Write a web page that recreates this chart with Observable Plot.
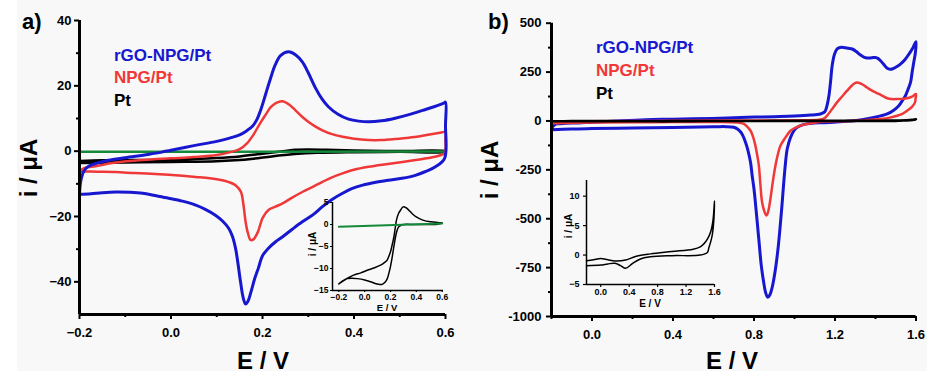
<!DOCTYPE html>
<html><head><meta charset="utf-8">
<script src="https://cdn.jsdelivr.net/npm/d3@7"></script>
<script src="https://cdn.jsdelivr.net/npm/@observablehq/plot@0.6"></script>
<style>
html,body{margin:0;padding:0;background:#fff;}
#wrap{position:relative;width:947px;height:380px;overflow:hidden;font-family:"Liberation Sans",Arial,sans-serif;}
#bg{position:absolute;left:17px;top:0;width:910px;height:371px;background:#f8f8f8;}
.p{position:absolute;}
.p svg{overflow:visible;display:block;}
</style></head>
<body><div id="wrap"><div id="bg"></div></div>
<script>
// ---------------- data ----------------
const seriesNames = ["rGO-NPG/Pt", "NPG/Pt", "Pt"];

// panel a) main CVs  [E (V), i (µA)]
const aRGO = [[-0.2,-13],[-0.197,-9],[-0.19,-6],[-0.18,-4.6],[-0.16,-3.6],[-0.137,-2.8],[-0.1,-2.0],[-0.05,-1.0],[-0.02,-0.3],[0.0,0.3],[0.05,1.7],[0.1,3.0],[0.128,4.0],[0.15,5.0],[0.165,6.2],[0.178,7.6],[0.187,9.5],[0.197,13],[0.207,17.5],[0.218,22.5],[0.228,26.5],[0.24,29.3],[0.257,30.4],[0.272,29.5],[0.287,27.3],[0.3,24],[0.316,19.3],[0.33,16],[0.344,13.6],[0.365,11.3],[0.388,9.8],[0.41,9.2],[0.432,9.0],[0.46,9.3],[0.49,10.1],[0.52,11.2],[0.55,12.5],[0.575,13.6],[0.596,14.7],[0.6,15],[0.6,8],[0.598,-2.2],[0.578,-4.8],[0.555,-6.3],[0.534,-7.4],[0.505,-8.3],[0.475,-8.9],[0.445,-9.6],[0.419,-10.4],[0.395,-11.5],[0.375,-12.9],[0.352,-14.8],[0.331,-17],[0.31,-19.5],[0.287,-21.6],[0.265,-23.9],[0.244,-26.2],[0.228,-27.8],[0.213,-29.7],[0.2,-32],[0.191,-35.8],[0.183,-39],[0.175,-43],[0.168,-46],[0.163,-46.8],[0.158,-45],[0.152,-40],[0.146,-34],[0.141,-29.7],[0.134,-26],[0.126,-23.6],[0.112,-21.3],[0.097,-19.6],[0.075,-17.8],[0.054,-16.5],[0.025,-15.3],[-0.005,-14.4],[-0.035,-13.6],[-0.062,-12.9],[-0.09,-12.6],[-0.121,-12.5],[-0.15,-12.7],[-0.175,-13],[-0.2,-13.2]];
const aNPG = [[-0.2,-6.2],[-0.19,-5.2],[-0.17,-4.7],[-0.121,-3.5],[-0.06,-2.7],[0.0,-2.2],[0.05,-1.8],[0.1,-1.2],[0.13,-0.3],[0.15,0.6],[0.166,2.4],[0.18,5],[0.195,8.6],[0.207,11.2],[0.218,13.5],[0.23,14.8],[0.243,15.3],[0.258,14.3],[0.272,12.5],[0.286,10.6],[0.3,9],[0.315,7.6],[0.331,6.4],[0.352,5.2],[0.375,4.4],[0.4,3.8],[0.432,3.4],[0.46,3.4],[0.49,3.7],[0.52,4.1],[0.55,4.7],[0.575,5.3],[0.597,5.9],[0.6,6.0],[0.6,3.5],[0.598,-0.6],[0.585,-1.4],[0.563,-2.1],[0.535,-2.7],[0.506,-3.3],[0.47,-4.0],[0.432,-4.8],[0.4,-5.7],[0.375,-6.8],[0.352,-8.0],[0.331,-9.4],[0.31,-10.9],[0.287,-12.5],[0.265,-14.2],[0.244,-16],[0.228,-17],[0.213,-18],[0.2,-20.5],[0.19,-24.7],[0.18,-27],[0.174,-27.2],[0.168,-25],[0.163,-21.6],[0.158,-16],[0.153,-12.5],[0.141,-10.4],[0.125,-9.4],[0.112,-8.9],[0.085,-8.3],[0.054,-7.9],[0.01,-7.4],[-0.034,-7.0],[-0.08,-6.7],[-0.121,-6.4],[-0.16,-6.3],[-0.2,-6.2]];
const aPt = [[-0.2,-3.0],[-0.15,-2.8],[-0.1,-2.75],[-0.05,-2.7],[0.0,-2.6],[0.05,-2.4],[0.1,-2.1],[0.15,-1.6],[0.2,-0.8],[0.24,-0.1],[0.27,0.4],[0.3,0.5],[0.34,0.4],[0.4,0.2],[0.5,0.05],[0.6,0.0],[0.6,-0.2],[0.5,-0.2],[0.4,-0.3],[0.32,-0.5],[0.27,-0.9],[0.22,-1.6],[0.18,-2.3],[0.14,-2.8],[0.1,-3.1],[0.0,-3.3],[-0.1,-3.45],[-0.2,-3.6]];
const aBlank = [[-0.2,-0.2],[0.6,-0.1]];
// panel a) inset
const aInsetPt = [[-0.2,-13.5],[-0.15,-12.5],[-0.086,-11.5],[-0.03,-11.0],[0.02,-10.4],[0.07,-9.9],[0.123,-9.25],[0.155,-8.6],[0.174,-8.1],[0.19,-7.0],[0.2,-6.2],[0.213,-4.6],[0.226,-2.8],[0.236,-0.9],[0.246,1.0],[0.262,2.5],[0.277,3.25],[0.298,4.0],[0.32,3.8],[0.342,3.25],[0.37,2.4],[0.406,1.6],[0.45,1.0],[0.51,0.6],[0.587,0.4],[0.6,0.35],[0.56,0.07],[0.45,0.0],[0.38,0.0],[0.303,0.0],[0.28,-0.2],[0.264,-0.5],[0.25,-1.4],[0.239,-2.8],[0.226,-5.0],[0.213,-7.4],[0.2,-9.5],[0.187,-11.1],[0.175,-12.3],[0.161,-13.0],[0.136,-13.6],[0.11,-13.6],[0.08,-13.4],[0.045,-13.0],[0.0,-12.6],[-0.058,-12.3],[-0.1,-12.2],[-0.135,-12.3],[-0.17,-12.8],[-0.2,-13.5]];
const aInsetBlank = [[-0.2,-0.5],[0.6,0.2]];

// panel b) main CVs
const bRGO = [[-0.2,-45],[-0.195,-30],[-0.185,-20],[-0.17,-15],[-0.13,-12],[-0.067,-10],[0.0,-6],[0.1,-1],[0.264,6.6],[0.4,9],[0.594,13],[0.733,18],[0.9,22],[1.0,25],[1.08,30],[1.128,36],[1.145,43],[1.153,53],[1.162,85],[1.17,129],[1.178,200],[1.186,283],[1.197,340],[1.21,368],[1.225,376],[1.244,376],[1.265,372],[1.285,368],[1.305,355],[1.326,337],[1.345,325],[1.359,322],[1.38,323],[1.4,325],[1.412,320],[1.425,308],[1.44,290],[1.458,269],[1.472,264],[1.482,266],[1.5,275],[1.523,291],[1.545,313],[1.565,342],[1.585,375],[1.6,405],[1.597,350],[1.589,300],[1.581,250],[1.573,197],[1.56,160],[1.548,129],[1.53,100],[1.515,78],[1.49,55],[1.458,36],[1.425,26],[1.392,18],[1.34,8],[1.293,1.5],[1.24,-3],[1.194,-7],[1.145,-9],[1.095,-10],[1.06,-15],[1.03,-24],[1.01,-35],[0.997,-50],[0.98,-85],[0.964,-143],[0.955,-220],[0.947,-314],[0.939,-420],[0.931,-518],[0.92,-640],[0.906,-757],[0.89,-850],[0.878,-890],[0.868,-902],[0.858,-880],[0.847,-820],[0.836,-740],[0.826,-630],[0.816,-518],[0.808,-430],[0.8,-348],[0.791,-280],[0.783,-212],[0.77,-150],[0.758,-109],[0.745,-75],[0.733,-55],[0.72,-42],[0.7,-32],[0.66,-29],[0.6,-30],[0.4,-33],[0.2,-36],[0.0,-39],[-0.1,-41],[-0.2,-45]];
const bNPG = [[-0.2,-12],[-0.19,-7],[-0.15,-4],[0.0,-2],[0.3,0],[0.6,2],[0.9,3],[1.05,4],[1.12,6],[1.145,12],[1.161,27],[1.185,60],[1.21,95],[1.235,125],[1.26,155],[1.285,183],[1.306,197],[1.33,190],[1.35,177],[1.37,163],[1.392,150],[1.416,138],[1.437,127],[1.458,116],[1.48,112],[1.507,112],[1.535,113],[1.557,116],[1.58,124],[1.6,138],[1.598,115],[1.595,95],[1.58,72],[1.557,53],[1.535,38],[1.507,27],[1.47,17],[1.425,10],[1.35,4],[1.277,0],[1.2,-2],[1.145,-3],[1.095,-10],[1.06,-16],[1.03,-24],[1.0,-37],[0.98,-50],[0.955,-85],[0.931,-126],[0.918,-170],[0.906,-228],[0.893,-310],[0.881,-399],[0.872,-455],[0.862,-484],[0.852,-465],[0.84,-416],[0.832,-330],[0.824,-228],[0.815,-170],[0.807,-126],[0.795,-80],[0.783,-50],[0.765,-28],[0.75,-15],[0.72,-8],[0.6,-5],[0.3,-6],[0.0,-8],[-0.15,-10],[-0.2,-12]];
// Pt CV, shown in panel b) and its inset
const bPt = [[-0.2,-0.97],[-0.1,-0.8],[0.0,-0.6],[0.1,-0.8],[0.2,-1.0],[0.35,-0.85],[0.5,-0.2],[0.7,0.2],[1.0,0.6],[1.3,1.0],[1.4,1.4],[1.45,1.9],[1.5,2.7],[1.55,4.1],[1.58,6],[1.6,9.2],[1.59,5.8],[1.57,3.5],[1.55,2.4],[1.52,1.2],[1.5,0.45],[1.4,0],[1.0,-0.1],[0.7,-0.3],[0.55,-0.7],[0.45,-1.4],[0.35,-2.25],[0.28,-1.8],[0.2,-1.4],[0.1,-1.5],[0.0,-1.7],[-0.2,-1.8]];

// ticks
const aXTicks = [-0.2, 0, 0.2, 0.4, 0.6], aXMinor = [-0.1, 0.1, 0.3, 0.5];
const aYTicks = [-40, -20, 0, 20, 40], aYMinor = [-30, -10, 10, 30];
const aInXTicks = [-0.2, 0, 0.2, 0.4, 0.6], aInYTicks = [-15, -10, -5, 0, 5];
const bXTicks = [0, 0.4, 0.8, 1.2, 1.6], bXMinor = [-0.2, 0.2, 0.6, 1.0, 1.4];
const bYTicks = [-1000, -750, -500, -250, 0, 250, 500], bYMinor = [-875, -625, -375, -125, 125, 375];
const bInXTicks = [0, 0.4, 0.8, 1.2, 1.6], bInYTicks = [-5, 0, 5, 10];

// domains
const aX = [-0.2, 0.6], aY = [-50, 40];
const aInX = [-0.249, 0.61], aInY = [-15, 5];
const bX = [-0.2, 1.6], bY = [-1000, 500];
const bInX = [-0.2, 1.6], bInY = [-5, 12.66];

// ---------------- styles ----------------
const BLUE = "#1717d0", RED = "#f03838", BLACK = "#000", GREEN = "#15893a";
const colors = [BLUE, RED, BLACK];
const FONT = "'Liberation Sans', Arial, sans-serif";
const minus = d => (d < 0 ? "\u2212" : "") + Math.abs(d);
const minus1 = d => (d < 0 ? "\u2212" : "") + Math.abs(d).toFixed(1);
const fix1 = d => d.toFixed(1);
const blank = () => "";
const xy = {x: d => d[0], y: d => d[1], curve: "catmull-rom"};
const st = size => ({background: "transparent", fontFamily: FONT, fontSize: size + "px", fontWeight: "bold", color: "#000", overflow: "visible"});

const wrap = document.getElementById("wrap");
function mount(svg, left, top) {
  const d = document.createElement("div");
  d.className = "p"; d.style.left = left + "px"; d.style.top = top + "px";
  d.appendChild(svg); wrap.appendChild(d);
}

// panel a main
mount(Plot.plot({
  width: 470, height: 380, marginLeft: 79, marginRight: 25, marginTop: 20, marginBottom: 66,
  style: st(13), x: {domain: aX}, y: {domain: aY},
  marks: [
    Plot.line(aPt, {...xy, stroke: BLACK, strokeWidth: 2.5}),
    Plot.line(aBlank, {...xy, stroke: GREEN, strokeWidth: 2.5}),
    Plot.line(aNPG, {...xy, stroke: RED, strokeWidth: 2.5}),
    Plot.line(aRGO, {...xy, stroke: BLUE, strokeWidth: 3}),
    Plot.axisX(aXTicks, {tickSize: 5, tickPadding: 8, strokeWidth: 2, tickFormat: minus1, label: null}),
    Plot.axisX(aXMinor, {tickSize: 3, strokeWidth: 2, tickFormat: blank, label: null}),
    Plot.axisY(aYTicks, {tickSize: 5, tickPadding: 3, strokeWidth: 2, tickFormat: minus, label: null}),
    Plot.axisY(aYMinor, {tickSize: 3, strokeWidth: 2, tickFormat: blank, label: null}),
    Plot.ruleX([aX[0]], {strokeWidth: 3}),
    Plot.ruleY([aY[0]], {strokeWidth: 3})
  ]
}), 0, 0);

// panel a inset
mount(Plot.plot({
  width: 150, height: 130, marginLeft: 32, marginRight: 7, marginTop: 12, marginBottom: 30,
  style: st(8.5), x: {domain: aInX}, y: {domain: aInY},
  marks: [
    Plot.line(aInsetPt, {...xy, stroke: BLACK, strokeWidth: 1.5}),
    Plot.line(aInsetBlank, {...xy, stroke: GREEN, strokeWidth: 2}),
    Plot.axisX(aInXTicks, {tickSize: 2, tickPadding: 1, strokeWidth: 1.2, tickFormat: minus1, label: null}),
    Plot.axisY(aInYTicks, {tickSize: 2, tickPadding: 2, strokeWidth: 1.2, tickFormat: minus, label: null}),
    Plot.ruleX([aInX[0]], {strokeWidth: 1.5}),
    Plot.ruleY([aInY[0]], {strokeWidth: 1.5})
  ]
}), 300, 190);

// panel b main
mount(Plot.plot({
  width: 477, height: 380, marginLeft: 81, marginRight: 31.5, marginTop: 22.7, marginBottom: 64,
  style: st(13), x: {domain: bX}, y: {domain: bY},
  marks: [
    Plot.line(bRGO, {...xy, stroke: BLUE, strokeWidth: 3}),
    Plot.line(bNPG, {...xy, stroke: RED, strokeWidth: 2.5}),
    Plot.line(bPt, {...xy, stroke: BLACK, strokeWidth: 2.5}),
    Plot.axisX(bXTicks, {tickSize: 5, tickPadding: 8, strokeWidth: 2, tickFormat: fix1, label: null}),
    Plot.axisX(bXMinor, {tickSize: 3, strokeWidth: 2, tickFormat: blank, label: null}),
    Plot.axisY(bYTicks, {tickSize: 5, tickPadding: 5, strokeWidth: 2, tickFormat: d => String(d), label: null}),
    Plot.axisY(bYMinor, {tickSize: 3, strokeWidth: 2, tickFormat: blank, label: null}),
    Plot.ruleX([bX[0]], {strokeWidth: 3}),
    Plot.ruleY([bY[0]], {strokeWidth: 3})
  ]
}), 470, 0);

// panel b inset
mount(Plot.plot({
  width: 190, height: 140, marginLeft: 46, marginRight: 16, marginTop: 15, marginBottom: 21,
  style: st(9), x: {domain: bInX}, y: {domain: bInY},
  marks: [
    Plot.line(bPt, {...xy, stroke: BLACK, strokeWidth: 1.5}),
    Plot.axisX(bInXTicks, {tickSize: 3, tickPadding: 1, strokeWidth: 1.2, tickFormat: fix1, label: null}),
    Plot.axisY(bInYTicks, {tickSize: 3, tickPadding: 4, strokeWidth: 1.2, tickFormat: minus, label: null}),
    Plot.ruleX([bInX[0]], {strokeWidth: 1.5}),
    Plot.ruleY([bInY[0]], {strokeWidth: 1.5})
  ]
}), 540, 165);

// ---------------- text overlay ----------------
const ov = d3.create("svg").attr("width", 947).attr("height", 380)
  .style("position", "absolute").style("left", "0px").style("top", "0px")
  .style("font-family", FONT).style("font-weight", "bold");
function txt(s, x, y, size, opts = {}) {
  const t = ov.append("text").attr("font-size", size).attr("fill", opts.fill || "#000").text(s);
  if (opts.rot) t.attr("transform", `translate(${x},${y}) rotate(-90)`).attr("text-anchor", "middle");
  else t.attr("x", x).attr("y", y).attr("text-anchor", opts.anchor || "start");
}
txt("a)", 22, 29, 22);
txt("b)", 488, 29, 22);
txt("i / \u03bcA", 37, 168, 24, {rot: true});
txt("E / V", 263, 369, 24, {anchor: "middle"});
txt("i / \u03bcA", 498, 170, 24, {rot: true});
txt("E / V", 732, 369, 24, {anchor: "middle"});
txt("i / \u03bcA", 316, 244, 10, {rot: true});
txt("E / V", 387, 311, 9.5, {anchor: "middle"});
txt("i / \u03bcA", 572, 226, 10, {rot: true});
txt("E / V", 650, 307, 10, {anchor: "middle"});
const legA = [60.7, 83, 106], legB = [53.3, 76, 98.7];
seriesNames.forEach((n, k) => {
  txt(n, 114, legA[k], 17, {fill: colors[k]});
  txt(n, 596, legB[k], 17, {fill: colors[k]});
});
wrap.appendChild(ov.node());
</script>
</body></html>
